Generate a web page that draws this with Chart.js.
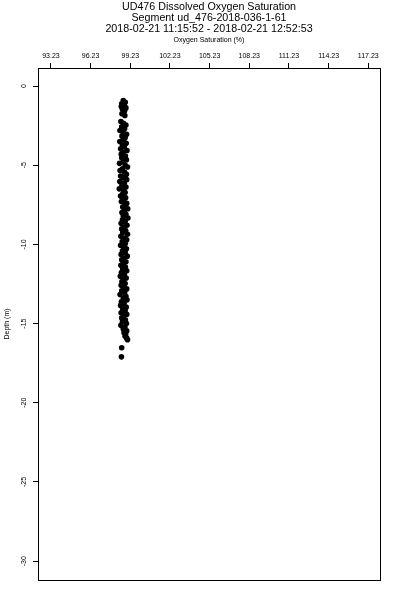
<!DOCTYPE html>
<html>
<head>
<meta charset="utf-8">
<title>UD476 Dissolved Oxygen Saturation</title>
<script src="https://cdn.jsdelivr.net/npm/chart.js@4.4.1/dist/chart.umd.min.js"></script>
<style>
  html, body { margin: 0; padding: 0; background: #fff; }
  canvas { display: block; }
</style>
</head>
<body>
<canvas id="chart" width="400" height="600"></canvas>
<script>
// ---- data ----
const titleLines = [
  'UD476 Dissolved Oxygen Saturation',
  'Segment ud_476-2018-036-1-61',
  '2018-02-21 11:15:52 - 2018-02-21 12:52:53'
];
const xTitle = 'Oxygen Saturation (%)';
const yTitle = 'Depth (m)';

const xTicks = [93.23, 96.23, 99.23, 102.23, 105.23, 108.23, 111.23, 114.23, 117.23];
const yTicks = [0, -5, -10, -15, -20, -25, -30];
const xMin = 92.25, xMax = 118.12;
const yMin = -31.19, yMax = 1.14;

// depth (m), one entry per sample
const depth = [
  -0.92, -1.03, -1.12, -1.21, -1.29, -1.38, -1.47, -1.56, -1.66, -1.75, -1.86,
  -2.24, -2.35, -2.46, -2.58, -2.69, -2.81, -2.92, -3.04, -3.15, -3.27,
  -3.38, -3.50, -3.61, -3.73, -3.84, -3.96, -4.07, -4.19, -4.30, -4.42,
  -4.53, -4.65, -4.76, -4.88, -4.99, -5.11, -5.22, -5.34, -5.45, -5.57,
  -5.68, -5.80, -5.91, -6.03, -6.14, -6.26, -6.37, -6.49, -6.60, -6.72,
  -6.83, -6.95, -7.06, -7.18, -7.29, -7.41, -7.52, -7.64, -7.75, -7.87,
  -7.98, -8.10, -8.21, -8.33, -8.44, -8.56, -8.67, -8.79, -8.90, -9.02,
  -9.13, -9.25, -9.36, -9.48, -9.59, -9.71, -9.82, -9.94, -10.05, -10.17,
  -10.28, -10.40, -10.51, -10.63, -10.74, -10.86, -10.97, -11.09, -11.20, -11.32,
  -11.43, -11.55, -11.66, -11.78, -11.89, -12.01, -12.12, -12.24, -12.35, -12.47,
  -12.58, -12.70, -12.81, -12.93, -13.04, -13.16, -13.27, -13.39, -13.50, -13.62,
  -13.73, -13.85, -13.96, -14.08, -14.19, -14.31, -14.42, -14.54, -14.65, -14.77,
  -14.88, -15.00, -15.11, -15.23, -15.34, -15.46, -15.57, -15.69, -15.80, -15.92,
  -16.02, -16.52, -17.10
];

// oxygen saturation (%), same order as depth
const oxygen = [
  98.70, 98.85, 98.58, 98.78, 98.55, 98.90, 98.64, 98.80, 98.72, 98.60, 98.82,
  98.52, 98.72, 98.90, 98.58, 98.80, 98.45, 98.68, 98.95, 98.60, 98.84,
  98.70, 98.44, 98.92, 98.63, 98.78, 98.50, 98.98, 98.68, 98.55, 98.86,
  98.58, 98.94, 98.72, 98.42, 98.84, 99.02, 98.64, 98.46, 98.80, 98.94,
  98.50, 98.70, 98.96, 98.44, 98.78, 98.60, 98.90, 98.40, 98.72, 98.84,
  98.64, 98.50, 98.88, 98.72, 98.56, 98.96, 98.82, 98.66, 99.04, 98.78,
  98.60, 98.90, 98.70, 99.05, 98.64, 98.84, 98.54, 98.98, 98.75, 98.58,
  98.88, 98.66, 99.02, 98.52, 98.80, 98.96, 98.62, 98.86, 98.50, 98.72,
  98.94, 98.64, 98.84, 98.54, 99.00, 98.76, 98.58, 98.90, 98.70, 98.52,
  98.86, 98.66, 98.96, 98.56, 98.78, 98.48, 98.92, 98.72, 98.60, 98.84,
  98.54, 98.76, 98.96, 98.58, 98.80, 98.46, 98.90, 98.70, 98.98, 98.56,
  98.76, 98.50, 98.92, 98.66, 98.84, 98.54, 98.96, 98.72, 98.58, 98.86,
  98.64, 98.94, 98.52, 98.82, 98.70, 98.96, 98.76, 98.88, 98.84, 98.96,
  99.02, 98.58, 98.56
];

const FONT = "'Liberation Sans', Arial, Helvetica, sans-serif";

// title block + closed frame, R style
const framePlugin = {
  id: 'frame',
  afterDraw(chart) {
    const { ctx, chartArea: a } = chart;
    ctx.save();
    ctx.strokeStyle = '#000';
    ctx.lineWidth = 1;
    const l = Math.round(a.left) + 0.5, t = Math.round(a.top) + 0.5;
    const r = Math.round(a.right) + 0.5, b = Math.round(a.bottom) + 0.5;
    ctx.strokeRect(l, t, r - l, b - t);

    ctx.fillStyle = '#000';
    ctx.font = '10.7px ' + FONT;
    ctx.textAlign = 'center';
    ctx.textBaseline = 'middle';
    const cx = (a.left + a.right) / 2;
    titleLines.forEach((line, i) => ctx.fillText(line, cx, 7 + i * 11.2));
    ctx.restore();
  }
};

const points = depth.map((d, i) => ({ x: oxygen[i], y: d }));

new Chart(document.getElementById('chart'), {
  type: 'scatter',
  data: {
    datasets: [{
      data: points,
      pointRadius: 2.8,
      pointBackgroundColor: '#000',
      pointBorderWidth: 0,
      pointHoverRadius: 2.8
    }]
  },
  options: {
    responsive: false,
    animation: false,
    events: [],
    layout: { padding: { top: 36, right: 20, bottom: 20, left: 0 } },
    plugins: {
      legend: { display: false },
      tooltip: { enabled: false },
      title: { display: false }
    },
    scales: {
      x: {
        type: 'linear',
        position: 'top',
        min: xMin,
        max: xMax,
        afterBuildTicks: s => { s.ticks = xTicks.map(v => ({ value: v })); },
        afterFit: s => { s.height = 32; },
        ticks: {
          autoSkip: false,
          maxRotation: 0,
          padding: 3,
          color: '#000',
          font: { family: FONT, size: 7 },
          callback: v => v.toFixed(2)
        },
        grid: { drawOnChartArea: false, drawTicks: true, tickLength: 5, color: '#000', lineWidth: 1 },
        border: { display: true, color: '#000', width: 1 },
        title: {
          display: true,
          text: xTitle,
          color: '#000',
          font: { family: FONT, size: 7 },
          padding: { top: 0, bottom: 0 }
        }
      },
      y: {
        type: 'linear',
        position: 'left',
        min: yMin,
        max: yMax,
        afterBuildTicks: s => { s.ticks = yTicks.map(v => ({ value: v })); },
        afterFit: s => { s.width = 38; },
        ticks: {
          autoSkip: false,
          minRotation: 90,
          maxRotation: 90,
          crossAlign: 'center',
          padding: 4,
          color: '#000',
          font: { family: FONT, size: 7 },
          callback: v => String(v)
        },
        grid: { drawOnChartArea: false, drawTicks: true, tickLength: 5, color: '#000', lineWidth: 1 },
        border: { display: true, color: '#000', width: 1 },
        title: {
          display: true,
          text: yTitle,
          color: '#000',
          font: { family: FONT, size: 7 },
          padding: { top: 3, bottom: 0 }
        }
      }
    }
  },
  plugins: [framePlugin]
});
</script>
</body>
</html>
